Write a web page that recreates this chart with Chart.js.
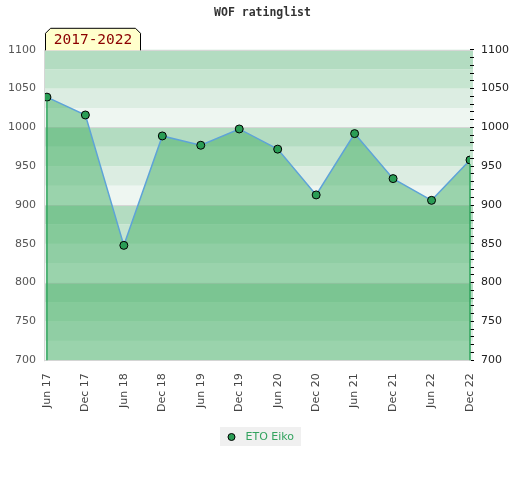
<!DOCTYPE html>
<html>
<head>
<meta charset="utf-8">
<script src="https://cdn.jsdelivr.net/npm/chart.js@4/dist/chart.umd.min.js"></script>
<style>
  html, body { margin: 0; padding: 0; background: #fff; }
  #wrap { width: 520px; height: 480px; }
</style>
</head>
<body>
<div id="wrap"><canvas id="chart"></canvas></div>
<script>
// data
const periods = ['Jun 17', 'Dec 17', 'Jun 18', 'Dec 18', 'Jun 19', 'Dec 19',
                 'Jun 20', 'Dec 20', 'Jun 21', 'Dec 21', 'Jun 22', 'Dec 22'];
const ratings = [1039, 1016, 848, 989, 977, 998, 972, 913, 992, 934, 906, 958];
const playerName = 'ETO Eiko';
const chartTitle = 'WOF ratinglist';
const rangeLabel = '2017-2022';

const yMin = 700;
const yMax = 1100;

// four shades per 100 points, darkest on top
const bandShades = ['#b3dcc1', '#c6e5d0', '#dcede2', '#eef6f1'];

const bandsPlugin = {
  id: 'bands',
  beforeDraw(chart) {
    const {ctx, chartArea} = chart;
    const y = chart.scales.y;
    const left = chartArea.left;
    const right = chartArea.right + 3;
    ctx.save();
    for (let v = yMin; v < yMax; v += 25) {
      const top = y.getPixelForValue(v + 25);
      const bottom = y.getPixelForValue(v);
      const idx = 3 - ((v % 100) / 25);
      ctx.fillStyle = bandShades[idx];
      ctx.fillRect(left, top, right - left, bottom - top);
    }
    ctx.strokeStyle = '#d6d6d6';
    ctx.lineWidth = 1;
    for (let v = yMin; v <= yMax; v += 100) {
      const py = Math.round(y.getPixelForValue(v)) + 0.5;
      ctx.beginPath();
      ctx.moveTo(left, py);
      ctx.lineTo(right, py);
      ctx.stroke();
    }
    ctx.beginPath();
    ctx.moveTo(Math.round(left) - 0.5, chartArea.top);
    ctx.lineTo(Math.round(left) - 0.5, chartArea.bottom + 1);
    ctx.stroke();
    ctx.restore();
  },
  afterDatasetsDraw(chart) {
    const {ctx, chartArea} = chart;
    const pts = chart.getDatasetMeta(0).data;
    const ends = [pts[0], pts[pts.length - 1]];
    ctx.save();
    ctx.strokeStyle = '#2fa45c';
    ctx.lineWidth = 1.5;
    ends.forEach(p => {
      ctx.beginPath();
      ctx.moveTo(p.x, p.y + 4);
      ctx.lineTo(p.x, chartArea.bottom);
      ctx.stroke();
    });
    ctx.restore();
  },
  afterDraw(chart) {
    const {ctx, chartArea} = chart;

    // the period tag on top of the plot
    const x0 = chartArea.left + 0.5;
    const x1 = chartArea.left + 95.5;
    const y0 = chartArea.top - 21.5;
    const y1 = chartArea.top + 0.5;
    const c = 5;
    ctx.save();
    ctx.beginPath();
    ctx.moveTo(x0, y1);
    ctx.lineTo(x0, y0 + c);
    ctx.lineTo(x0 + c, y0);
    ctx.lineTo(x1 - c, y0);
    ctx.lineTo(x1, y0 + c);
    ctx.lineTo(x1, y1);
    ctx.fillStyle = '#ffffcc';
    ctx.fill();
    ctx.strokeStyle = '#000';
    ctx.lineWidth = 1;
    ctx.stroke();
    ctx.fillStyle = '#8b0000';
    ctx.font = '14.5px "DejaVu Sans Mono", monospace';
    ctx.textAlign = 'center';
    ctx.textBaseline = 'middle';
    ctx.fillText(rangeLabel, (x0 + x1) / 2, (y0 + y1) / 2 + 1);

    // legend below the axis labels
    const lx = 220, ly = 427, lw = 81, lh = 19;
    ctx.fillStyle = '#f0f0f0';
    ctx.fillRect(lx, ly, lw, lh);
    ctx.beginPath();
    ctx.arc(lx + 11.5, ly + 10, 3.5, 0, Math.PI * 2);
    ctx.fillStyle = '#2a9d55';
    ctx.fill();
    ctx.strokeStyle = '#000';
    ctx.stroke();
    ctx.fillStyle = '#33a35f';
    ctx.font = '11px "DejaVu Sans", sans-serif';
    ctx.textAlign = 'left';
    ctx.textBaseline = 'middle';
    ctx.fillText(playerName, lx + 25.5, ly + 10);
    ctx.restore();
  }
};

const points = ratings.map((v, i) => ({x: i, y: v}));

new Chart(document.getElementById('chart'), {
  type: 'line',
  data: {
    datasets: [{
      label: playerName,
      data: points,
      borderColor: '#5ea3d8',
      borderWidth: 1.5,
      backgroundColor: 'rgba(60, 172, 94, 0.47)',
      fill: 'start',
      tension: 0,
      pointRadius: 4,
      pointHoverRadius: 4,
      pointBackgroundColor: '#2a9d55',
      pointBorderColor: '#000',
      pointBorderWidth: 1
    }]
  },
  options: {
    responsive: true,
    maintainAspectRatio: false,
    animation: false,
    layout: {
      padding: {left: 9, right: 4, top: 0, bottom: 55}
    },
    plugins: {
      title: {
        display: true,
        text: chartTitle,
        color: '#333',
        font: {family: "'DejaVu Sans Mono', monospace", size: 11.5, weight: 'bold'},
        padding: {top: 6, bottom: 30}
      },
      legend: {display: false},
      tooltip: {enabled: false}
    },
    scales: {
      x: {
        type: 'linear',
        min: -0.05,
        max: 11,
        grid: {display: false, drawTicks: false},
        border: {display: true, color: '#d6d6d6'},
        afterBuildTicks: (axis) => {
          axis.ticks = periods.map((_, i) => ({value: i}));
        },
        afterFit: (axis) => {
          axis.paddingLeft = 0;
          axis.paddingRight = 0;
        },
        ticks: {
          autoSkip: false,
          minRotation: 90,
          maxRotation: 90,
          padding: 13,
          color: '#444',
          font: {family: "'DejaVu Sans', sans-serif", size: 11},
          callback: (v) => periods[v]
        }
      },
      y: {
        position: 'left',
        min: yMin,
        max: yMax,
        grid: {display: false, drawTicks: false},
        border: {display: false},
        afterFit: (axis) => {
          axis.width = 36;
        },
        ticks: {
          stepSize: 50,
          padding: 9,
          color: '#555',
          font: {family: "'DejaVu Sans', sans-serif", size: 11},
          callback: (v) => String(v)
        }
      },
      y2: {
        position: 'right',
        min: yMin,
        max: yMax,
        grid: {
          display: true,
          drawOnChartArea: false,
          drawTicks: true,
          tickLength: 4,
          tickColor: '#000',
          tickWidth: 1
        },
        border: {display: false},
        ticks: {
          stepSize: 10,
          autoSkip: false,
          padding: 7,
          color: '#222',
          font: {family: "'DejaVu Sans', sans-serif", size: 11},
          callback: (v) => (v % 50 === 0 ? String(v) : '')
        }
      }
    }
  },
  plugins: [bandsPlugin]
});
</script>
</body>
</html>
